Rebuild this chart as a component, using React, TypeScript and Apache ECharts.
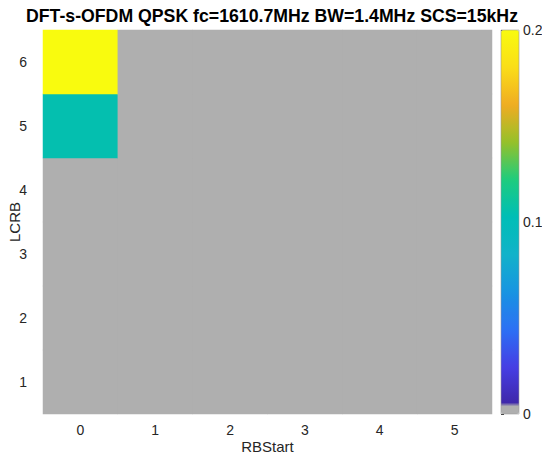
import React, { useEffect, useRef } from "react";
import * as echarts from "echarts";

// Axis categories
const rbStart = ["0", "1", "2", "3", "4", "5"];
const lcrb = ["1", "2", "3", "4", "5", "6"];

// Metric per LCRB row (index 0 -> LCRB 1), one value per RBStart column
const lcrb1 = [0, 0, 0, 0, 0, 0];
const lcrb2 = [0, 0, 0, 0, 0, 0];
const lcrb3 = [0, 0, 0, 0, 0, 0];
const lcrb4 = [0, 0, 0, 0, 0, 0];
const lcrb5 = [0.105, 0, 0, 0, 0, 0];
const lcrb6 = [0.2, 0, 0, 0, 0, 0];
const rows = [lcrb1, lcrb2, lcrb3, lcrb4, lcrb5, lcrb6];

// Colour bar range and ticks
const cMin = 0;
const cMax = 0.2;
const cTick = 0.1;

// Parula-like anchor colours, low to high
const parulaAnchors = [
  [62, 38, 168],
  [70, 62, 228],
  [44, 112, 244],
  [24, 148, 226],
  [18, 178, 202],
  [0, 190, 182],
  [30, 204, 126],
  [150, 192, 42],
  [240, 172, 34],
  [250, 222, 24],
  [249, 251, 14],
];
const zeroGray = "#afafaf";

function buildColormap(): string[] {
  const total = 200;
  const grayCount = 5;
  const out: string[] = [];
  for (let i = 0; i < grayCount; i++) out.push(zeroGray);
  const n = total - grayCount;
  for (let i = 0; i < n; i++) {
    const t = (i / (n - 1)) * (parulaAnchors.length - 1);
    const k = Math.min(Math.floor(t), parulaAnchors.length - 2);
    const f = t - k;
    const a = parulaAnchors[k];
    const b = parulaAnchors[k + 1];
    const c = a.map((v, j) => Math.round(v + (b[j] - v) * f));
    out.push(`rgb(${c[0]},${c[1]},${c[2]})`);
  }
  return out;
}

const FONT = "Liberation Sans, Arial, Helvetica, sans-serif";
const INK = "#262626";

export default function App() {
  const ref = useRef<HTMLDivElement>(null);

  useEffect(() => {
    if (!ref.current) return;
    const chart = echarts.init(ref.current, undefined, { renderer: "svg" });

    const data: number[][] = [];
    rows.forEach((row, yi) => {
      row.forEach((v, xi) => data.push([xi, yi, v]));
    });

    const plot = { left: 43, top: 30, width: 449, height: 384 };
    const bar = { left: 501, top: 30, width: 18, height: 384 };

    chart.setOption({
      animation: false,
      backgroundColor: "#ffffff",
      title: {
        text: "DFT-s-OFDM QPSK fc=1610.7MHz BW=1.4MHz SCS=15kHz",
        left: 267,
        textAlign: "center",
        top: 2,
        textStyle: {
          fontFamily: FONT,
          fontSize: 17.7,
          fontWeight: "bold",
          color: "#000",
        },
      },
      grid: [
        {
          ...plot,
          containLabel: false,
          outerBoundsMode: "none",
          show: true,
          backgroundColor: zeroGray,
          borderWidth: 0,
        },
        { ...bar, containLabel: false, outerBoundsMode: "none" },
      ],
      xAxis: [
        {
          type: "category",
          data: rbStart,
          gridIndex: 0,
          name: "RBStart",
          nameLocation: "middle",
          nameGap: 25,
          nameMoveOverlap: false,
          nameTextStyle: { fontFamily: FONT, fontSize: 15, color: INK },
          axisLine: { show: false },
          axisTick: { show: false },
          axisLabel: { fontFamily: FONT, fontSize: 14, color: INK, margin: 9 },
          splitLine: { show: false },
        },
        {
          type: "value",
          gridIndex: 1,
          show: false,
        },
      ],
      yAxis: [
        {
          type: "category",
          data: lcrb,
          gridIndex: 0,
          name: "LCRB",
          nameLocation: "middle",
          nameGap: 21,
          nameMoveOverlap: false,
          nameTextStyle: { fontFamily: FONT, fontSize: 15, color: INK },
          axisLine: { show: false },
          axisTick: { show: false },
          axisLabel: { fontFamily: FONT, fontSize: 14, color: INK, margin: 16 },
          splitLine: { show: false },
        },
        {
          type: "value",
          gridIndex: 1,
          position: "right",
          min: cMin,
          max: cMax,
          interval: cTick,
          axisLine: { show: false },
          axisTick: { show: true, length: 3, lineStyle: { color: INK } },
          axisLabel: { fontFamily: FONT, fontSize: 14, color: INK, margin: 4 },
          splitLine: { show: false },
        },
      ],
      visualMap: {
        type: "continuous",
        min: cMin,
        max: cMax,
        calculable: false,
        seriesIndex: 0,
        orient: "vertical",
        left: bar.left,
        top: bar.top,
        itemWidth: bar.width,
        itemHeight: bar.height,
        padding: 0,
        text: ["", ""],
        inRange: { color: buildColormap() },
      },
      series: [
        {
          type: "heatmap",
          xAxisIndex: 0,
          yAxisIndex: 0,
          data,
          itemStyle: { borderWidth: 0 },
          emphasis: { disabled: true },
        },
      ],
      graphic: [
        {
          type: "rect",
          z: 100,
          shape: { x: bar.left, y: bar.top, width: bar.width, height: bar.height },
          style: { fill: "none", stroke: "#9a9a9a", lineWidth: 0.6 },
          silent: true,
        },
      ],
    });

    return () => chart.dispose();
  }, []);

  return (
    <div
      ref={ref}
      style={{ position: "fixed", left: 0, top: 0, width: 542, height: 455 }}
    />
  );
}
